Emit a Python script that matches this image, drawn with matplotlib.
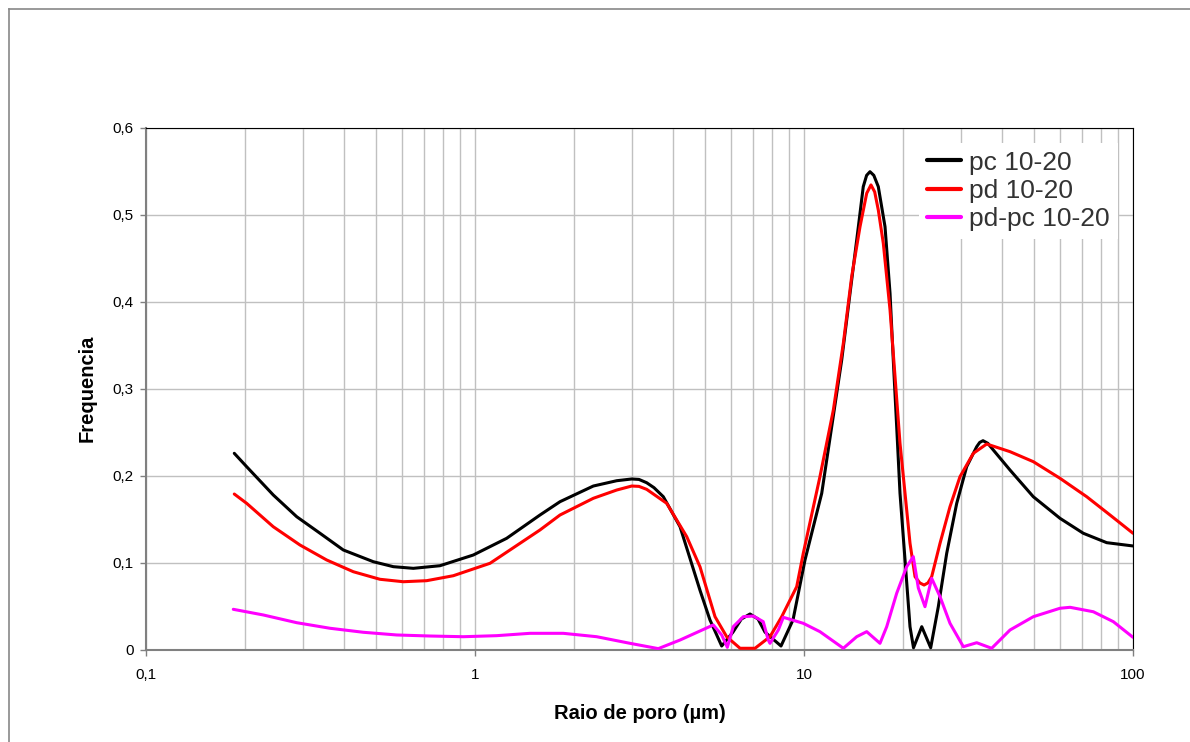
import matplotlib
matplotlib.use("Agg")
import matplotlib.pyplot as plt
from matplotlib.lines import Line2D
from matplotlib.ticker import FixedLocator, FuncFormatter, LogLocator, NullFormatter

plt.rcParams['font.family'] = ['Liberation Sans', 'DejaVu Sans']

# ---- data ----
pc_x = [0.1855, 0.2023, 0.2437, 0.2872, 0.3380, 0.3978, 0.4909, 0.5646, 0.6494, 0.7826,
        0.988, 1.248, 1.576, 1.813, 2.289, 2.696, 2.995, 3.15, 3.325, 3.5, 3.736, 4.200,
        4.830, 5.178, 5.621, 6.083, 6.45, 6.853, 7.25, 7.61, 8.514, 9.26, 10.07, 11.32,
        12.14, 13.02, 13.80, 14.63, 15.14, 15.5, 15.87, 16.3, 16.82, 17.63, 18.26, 18.68,
        19.13, 19.58, 20.28, 21.00, 21.52, 22.80, 24.27, 25.60, 27.15, 29.12,
        31.22, 33.49, 34.2, 35.00, 36.2, 37.62, 42.28, 49.77, 59.99, 70.62, 83.18, 100.0]
pc_y = [0.2255, 0.2101, 0.1776, 0.1526, 0.1336, 0.1144, 0.1009, 0.0952, 0.0933, 0.0963,
        0.1086, 0.1278, 0.1546, 0.1699, 0.1879, 0.1940, 0.1960, 0.1955, 0.1917, 0.186, 0.1756, 0.1411,
        0.068, 0.034, 0.004, 0.020, 0.035, 0.0408, 0.035, 0.020, 0.004, 0.034, 0.1029, 0.1795,
        0.2561, 0.3328, 0.4094, 0.4860, 0.532, 0.545, 0.5492, 0.545, 0.532, 0.486, 0.4094, 0.3328,
        0.2561, 0.1795, 0.1029, 0.0262, 0.002, 0.0262, 0.002, 0.0492, 0.1106, 0.168,
        0.2101, 0.2331, 0.238, 0.2400, 0.237, 0.2293, 0.2063, 0.1756, 0.1508, 0.1336, 0.1228, 0.119]

pd_x = [0.1855, 0.2023, 0.2437, 0.2938, 0.3541, 0.4267, 0.5143, 0.6055, 0.7131, 0.8590,
        1.111, 1.576, 1.813, 2.289, 2.696, 2.995, 3.15, 3.325, 3.826, 4.401, 4.830,
        5.365, 5.821, 6.392, 7.097, 7.881, 8.555, 9.502, 9.95, 11.18, 12.28,
        13.17, 13.96, 14.80, 15.51, 15.98, 16.4, 16.82, 17.42, 18.26, 18.91, 19.58,
        20.28, 21.00, 21.75, 22.5, 23.17, 23.8, 24.44, 25.91, 27.78, 29.79, 32.71, 35.92,
        42.28, 49.77, 59.99, 72.33, 85.14, 100.0]
pd_y = [0.1787, 0.168, 0.1411, 0.1201, 0.1029, 0.0894, 0.0807, 0.0779, 0.0791, 0.0848,
        0.0991, 0.1374, 0.1546, 0.1738, 0.1833, 0.1879, 0.1875, 0.1841, 0.168, 0.1297, 0.0950,
        0.0377, 0.0147, 0.0014, 0.0014, 0.0147, 0.0377, 0.0722, 0.1106, 0.1986, 0.2753,
        0.352, 0.4285, 0.486, 0.5244, 0.534, 0.526, 0.5052, 0.4669, 0.3902, 0.3136, 0.237,
        0.1795, 0.1221, 0.0837, 0.0765, 0.0741, 0.0765, 0.0837, 0.1221, 0.1641, 0.1986, 0.2255, 0.2362,
        0.2274, 0.2159, 0.1968, 0.1756, 0.1546, 0.1336]

dif_x = [0.1842, 0.2272, 0.2872, 0.3625, 0.4574, 0.5781, 0.7298, 0.9213, 1.164, 1.470,
         1.855, 2.343, 2.959, 3.607, 4.200, 5.300, 5.621, 5.847, 6.095, 6.538,
         7.014, 7.518, 7.786, 7.881, 8.355, 8.654, 9.95, 11.18, 13.17, 14.46,
         15.51, 17.02, 17.84, 19.13, 20.52, 21.49, 22.26, 23.32, 24.44, 25.91,
         27.78, 30.50, 33.49, 37.19, 42.28, 49.77, 59.99, 64.37, 75.75, 87.13, 100.0]
dif_y = [0.0462, 0.0397, 0.0308, 0.0244, 0.0198, 0.0167, 0.0155, 0.0147, 0.0159, 0.0186,
         0.0186, 0.0147, 0.0071, 0.001, 0.0109, 0.0282, 0.0167, 0.0025, 0.0262, 0.0377,
         0.0385, 0.032, 0.0109, 0.0071, 0.0224, 0.037, 0.0301, 0.0205, 0.0014, 0.0147,
         0.0205, 0.0071, 0.0262, 0.0646, 0.0952, 0.1067, 0.0707, 0.0492, 0.0818, 0.0607,
         0.0301, 0.0032, 0.0078, 0.0014, 0.0224, 0.0377, 0.0474, 0.0485, 0.0434, 0.032, 0.014]

labels = ['pc 10-20', 'pd 10-20', 'pd-pc 10-20']
colors = ['#000000', '#FF0000', '#FF00FF']
y_ticks = [0, 0.1, 0.2, 0.3, 0.4, 0.5, 0.6]
x_ticks = [0.1, 1, 10, 100]
x_label = 'Raio de poro (µm)'
y_label = 'Frequencia'

# ---- figure ----
fig = plt.figure(figsize=(11.9, 7.42), dpi=100)
ax = fig.add_axes([146/1190, 1 - 649.5/742, 987/1190, 522/742])

for xs, ys, lab, col in zip([pc_x, pd_x, dif_x], [pc_y, pd_y, dif_y], labels, colors):
    ax.plot(xs, ys, color=col, lw=2.2, label=lab, solid_joinstyle='round',
            solid_capstyle='round', zorder=3)

ax.set_xscale('log')
ax.set_xlim(0.1, 100)
ax.set_ylim(0, 0.6)
ax.xaxis.set_major_locator(FixedLocator(x_ticks))
ax.xaxis.set_minor_locator(LogLocator(base=10, subs=range(2, 10), numticks=20))
ax.xaxis.set_minor_formatter(NullFormatter())
ax.xaxis.set_major_formatter(FuncFormatter(lambda v, p: ('%g' % v).replace('.', ',')))
ax.yaxis.set_major_locator(FixedLocator(y_ticks))
ax.yaxis.set_major_formatter(FuncFormatter(lambda v, p: ('%g' % v).replace('.', ',')))

ax.grid(True, which='major', axis='both', color='#C0C0C0', lw=1.0, zorder=0)
ax.grid(True, which='minor', axis='x', color='#C0C0C0', lw=1.0, zorder=0)
ax.set_axisbelow(True)

for s in ['top', 'right']:
    ax.spines[s].set_color('#000000')
    ax.spines[s].set_linewidth(0.8)
for s in ['left', 'bottom']:
    ax.spines[s].set_color('#808080')
    ax.spines[s].set_linewidth(1.5)

ax.tick_params(axis='both', which='major', direction='out', length=4, width=1,
               color='#808080', labelsize=11, labelcolor='#000000')
ax.tick_params(axis='x', which='major', pad=9)
ax.tick_params(axis='y', which='major', pad=5)
ax.tick_params(axis='x', which='minor', length=0)

ax.set_xlabel(x_label, fontsize=14.5, fontweight='bold', labelpad=16)
ax.set_ylabel(y_label, fontsize=14.5, fontweight='bold', labelpad=11)

leg = ax.legend(loc='upper left', bbox_to_anchor=(0.783, 0.971), frameon=True,
                fontsize=19, handlelength=1.3, handletextpad=0.3, labelspacing=0.16,
                borderpad=0.3, borderaxespad=0, fancybox=False)
leg.get_frame().set_edgecolor('none')
leg.get_frame().set_facecolor('white')
leg.get_frame().set_alpha(1.0)
for h in leg.get_lines():
    h.set_linewidth(3.0)
for t in leg.get_texts():
    t.set_color('#333333')

# outer chart frame
fig.add_artist(Line2D([9/1190, 9/1190], [0, 1 - 9/742], transform=fig.transFigure,
                      color='#888888', lw=1.2))
fig.add_artist(Line2D([9/1190, 1], [1 - 9/742, 1 - 9/742], transform=fig.transFigure,
                      color='#888888', lw=1.2))

fig.savefig('out.png', dpi=100)
